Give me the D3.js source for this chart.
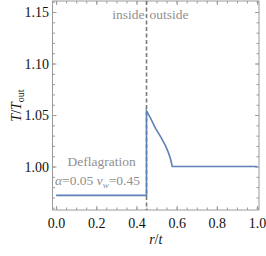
<!DOCTYPE html>
<html>
<head>
<meta charset="utf-8">
<script src="https://cdn.jsdelivr.net/npm/d3@7"></script>
<style>
  body { margin: 0; background: #fff; }
  svg text { font-family: "Liberation Serif", "Times New Roman", "DejaVu Serif", serif; }
</style>
</head>
<body>
<svg id="chart" width="266" height="256"></svg>
<script>
// profile: r/t and T/T_out
var rVals = [0.0, 0.45, 0.45, 0.47, 0.495, 0.52, 0.545, 0.56, 0.57, 0.576, 0.578, 1.0];
var tVals = [0.972, 0.972, 1.054, 1.047, 1.037, 1.029, 1.020, 1.013, 1.007, 1.002, 1.000, 1.000];
var xTicks = [0, 0.2, 0.4, 0.6, 0.8, 1.0];
var yTicks = [1.00, 1.05, 1.10, 1.15];
var wallPos = 0.45;

var svg = d3.select("#chart");
var fLeft = 52.5, fRight = 259, fTop = 1, fBottom = 210;

var x = d3.scaleLinear().domain([-0.018, 1.01]).range([fLeft, fRight]);
var y = d3.scaleLinear().domain([0.9578, 1.1607]).range([fBottom, fTop]);

var frameCol = "#9a9a9a";
var fs = 14;

// minor ticks
var xMinor = d3.range(0, 1.0001, 0.05);
var yMinor = d3.range(0.96, 1.1601, 0.01);

function styleAxis(g) {
    g.select(".domain").remove();
    g.attr("font-family", null);
    g.selectAll("line").attr("stroke", frameCol);
    g.selectAll("text").attr("font-size", fs).attr("fill", "#111");
}

// bottom
svg.append("g").attr("transform", "translate(0," + fBottom + ")")
    .call(d3.axisBottom(x).tickValues(xTicks).tickSize(-4).tickPadding(8).tickFormat(d3.format(".1f")))
    .call(styleAxis);
svg.append("g").attr("transform", "translate(0," + fBottom + ")")
    .call(d3.axisBottom(x).tickValues(xMinor).tickSize(-2.5).tickFormat(""))
    .call(styleAxis);
// top
svg.append("g").attr("transform", "translate(0," + fTop + ")")
    .call(d3.axisTop(x).tickValues(xTicks).tickSize(-4).tickFormat(""))
    .call(styleAxis);
svg.append("g").attr("transform", "translate(0," + fTop + ")")
    .call(d3.axisTop(x).tickValues(xMinor).tickSize(-2.5).tickFormat(""))
    .call(styleAxis);
// left
svg.append("g").attr("transform", "translate(" + fLeft + ",0)")
    .call(d3.axisLeft(y).tickValues(yTicks).tickSize(-4).tickPadding(3.5).tickFormat(d3.format(".2f")))
    .call(styleAxis);
svg.append("g").attr("transform", "translate(" + fLeft + ",0)")
    .call(d3.axisLeft(y).tickValues(yMinor).tickSize(-2.5).tickFormat(""))
    .call(styleAxis);
// right
svg.append("g").attr("transform", "translate(" + fRight + ",0)")
    .call(d3.axisRight(y).tickValues(yTicks).tickSize(-4).tickFormat(""))
    .call(styleAxis);
svg.append("g").attr("transform", "translate(" + fRight + ",0)")
    .call(d3.axisRight(y).tickValues(yMinor).tickSize(-2.5).tickFormat(""))
    .call(styleAxis);

// frame
svg.append("rect")
    .attr("x", fLeft).attr("y", fTop)
    .attr("width", fRight - fLeft).attr("height", fBottom - fTop)
    .attr("fill", "none").attr("stroke", frameCol).attr("stroke-width", 1);

// wall line
svg.append("line")
    .attr("x1", x(wallPos)).attr("x2", x(wallPos))
    .attr("y1", fTop).attr("y2", fBottom)
    .attr("stroke", "#7a7a7a").attr("stroke-width", 1.6)
    .attr("stroke-dasharray", "4,2.5");

// profile
var pts = rVals.map(function (r, i) { return [r, tVals[i]]; });
svg.append("path")
    .datum(pts)
    .attr("fill", "none")
    .attr("stroke", "#5e81b5")
    .attr("stroke-width", 1.6)
    .attr("d", d3.line().x(function (d) { return x(d[0]); }).y(function (d) { return y(d[1]); }));

// annotations
var gray = "#8f8f8f";
var fa = 13.5;
svg.append("text").attr("x", x(wallPos) - 2).attr("y", 19)
    .attr("text-anchor", "end").attr("font-size", fa).attr("fill", gray).text("inside");
svg.append("text").attr("x", x(wallPos) + 3).attr("y", 19)
    .attr("text-anchor", "start").attr("font-size", fa).attr("fill", gray).text("outside");

svg.append("text").attr("x", 67.5).attr("y", 166)
    .attr("font-size", fa).attr("fill", gray).text("Deflagration");

var lab = svg.append("text").attr("x", 55).attr("y", 185)
    .attr("font-size", fa).attr("fill", gray);
lab.append("tspan").attr("font-style", "italic").text("α");
lab.append("tspan").text("=0.05 ");
lab.append("tspan").attr("font-style", "italic").text("v");
lab.append("tspan").attr("font-style", "italic").attr("font-size", 9).attr("dy", 3).text("w");
lab.append("tspan").attr("dy", -3).text("=0.45");

// axis labels
var xl = svg.append("text").attr("x", (fLeft + fRight) / 2).attr("y", 244)
    .attr("text-anchor", "middle").attr("font-size", fs).attr("fill", "#111");
xl.append("tspan").attr("font-style", "italic").text("r");
xl.append("tspan").text("/");
xl.append("tspan").attr("font-style", "italic").text("t");

var yl = svg.append("text")
    .attr("transform", "translate(21," + ((fTop + fBottom) / 2) + ") rotate(-90)")
    .attr("text-anchor", "middle").attr("font-size", fs).attr("fill", "#111");
yl.append("tspan").attr("font-style", "italic").text("T");
yl.append("tspan").text("/");
yl.append("tspan").attr("font-style", "italic").text("T");
yl.append("tspan").attr("font-size", 10).attr("dy", 3).text("out");
</script>
</body>
</html>
